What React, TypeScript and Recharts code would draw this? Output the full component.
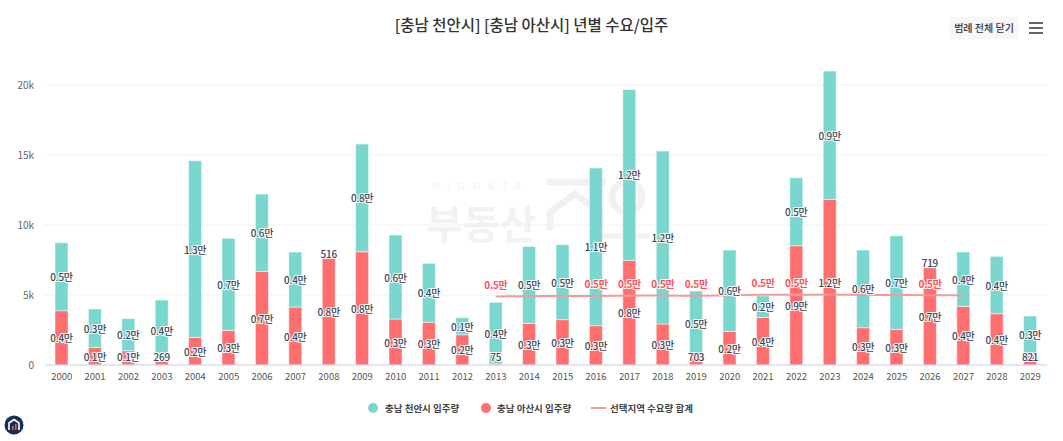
import { ComposedChart, Bar, Line, XAxis, YAxis, CartesianGrid, Legend, LabelList } from 'recharts';

const years = ['2000', '2001', '2002', '2003', '2004', '2005', '2006', '2007', '2008', '2009', '2010', '2011', '2012', '2013', '2014', '2015', '2016', '2017', '2018', '2019', '2020', '2021', '2022', '2023', '2024', '2025', '2026', '2027', '2028', '2029'];

const cheonanValues = [4855, 2740, 2290, 4371, 12615, 6570, 5520, 3930, 0, 7690, 5995, 4210, 1215, 4400, 5495, 5350, 11255, 12210, 12350, 4577, 5810, 1530, 4855, 9170, 5545, 6690, 0, 3880, 4095, 2680];
const asanValues = [3880, 1260, 1020, 269, 1975, 2475, 6690, 4140, 7640, 8090, 3285, 3050, 2165, 75, 2975, 3240, 2810, 7470, 2930, 703, 2400, 3400, 8520, 11830, 2665, 2545, 6950, 4190, 3665, 821];
const demandValues = [null, null, null, null, null, null, null, null, null, null, null, null, null, 4900, 4910, 4930, 4930, 4950, 4960, 4950, 4980, 5010, 5020, 5030, 5010, 5000, 4990, 4990, null, null];

const cheonanLabels = ['0.5만', '0.3만', '0.2만', '0.4만', '1.3만', '0.7만', '0.6만', '0.4만', '', '0.8만', '0.6만', '0.4만', '0.1만', '0.4만', '0.5만', '0.5만', '1.1만', '1.2만', '1.2만', '0.5만', '0.6만', '0.2만', '0.5만', '0.9만', '0.6만', '0.7만', '', '0.4만', '0.4만', '0.3만'];
const asanLabels = ['0.4만', '0.1만', '0.1만', '269', '0.2만', '0.3만', '0.7만', '0.4만', '0.8만', '0.8만', '0.3만', '0.3만', '0.2만', '75', '0.3만', '0.3만', '0.3만', '0.8만', '0.3만', '703', '0.2만', '0.4만', '0.9만', '1.2만', '0.3만', '0.3만', '0.7만', '0.4만', '0.4만', '821'];
// 2008 and 2026 have a label over the red bar but no teal segment to see
const topLabels = ['', '', '', '', '', '', '', '', '516', '', '', '', '', '', '', '', '', '', '', '', '', '', '', '', '', '', '719', '', '', ''];
const demandLabels = ['', '', '', '', '', '', '', '', '', '', '', '', '', '0.5만', '', '', '0.5만', '0.5만', '0.5만', '0.5만', '', '0.5만', '0.5만', '', '', '', '0.5만', '', '', ''];

const yTicks = [0, 5000, 10000, 15000, 20000];

const chartData = years.map((year, i) => ({
  year,
  cheonan: cheonanValues[i],
  asan: asanValues[i],
  demand: demandValues[i],
  cheonanLabel: cheonanLabels[i],
  asanLabel: asanLabels[i],
  topLabel: topLabels[i],
  demandLabel: demandLabels[i],
}));

const FONT = '"Noto Sans CJK KR", "Noto Sans", sans-serif';
const TEAL = '#7ad7cd';
const RED = '#ff6f6f';
const LINE_RED = '#f59a9a';

function outlined(x: number, y: number, text: string, fill: string, weight = 500) {
  return (
    <text
      x={x}
      y={y}
      textAnchor="middle"
      dominantBaseline="central"
      fontSize={10}
      fontFamily={FONT}
      fontWeight={weight}
      fill={fill}
      stroke="#fff"
      strokeWidth={2}
      paintOrder="stroke"
      letterSpacing={-0.3}
    >
      {text}
    </text>
  );
}

// the labels sit mid segment, small ones get pushed up so they stay in the plot
function SegmentLabel(props: any) {
  const { x, y, width, height, value } = props;
  if (!value) return null;
  const h = Math.abs(Number(height));
  const cy = Math.min(Number(y) + h / 2, 356.5);
  return outlined(Number(x) + Number(width) / 2, cy, value, '#3d4352');
}

function TopLabel(props: any) {
  const { x, y, width, value } = props;
  if (!value) return null;
  return outlined(Number(x) + Number(width) / 2, Number(y) - 5, value, '#3d4352');
}

function DemandLabel(props: any) {
  const { x, y, value } = props;
  if (!value || y == null) return null;
  return outlined(Number(x), Number(y) - 12, value, '#ff4d55', 700);
}

function ChartLegend() {
  const label = { fontSize: 9.5, fontWeight: 700, color: '#444', fontFamily: FONT, whiteSpace: 'nowrap' as const };
  return (
    <div style={{ position: 'relative', top: 15, height: 16, width: 1063 }}>
      <span style={{ position: 'absolute', left: 368, top: 3, width: 10, height: 10, borderRadius: 5, background: TEAL }} />
      <span style={{ ...label, position: 'absolute', left: 385, top: 1 }}>충남 천안시 입주량</span>
      <span style={{ position: 'absolute', left: 481, top: 3, width: 10, height: 10, borderRadius: 5, background: RED }} />
      <span style={{ ...label, position: 'absolute', left: 497, top: 1 }}>충남 아산시 입주량</span>
      <span style={{ position: 'absolute', left: 591, top: 7, width: 15, height: 2, background: LINE_RED }} />
      <span style={{ ...label, position: 'absolute', left: 610, top: 1 }}>선택지역 수요량 합계</span>
    </div>
  );
}

function Watermark() {
  return (
    <svg width={1063} height={441} style={{ position: 'absolute', left: 0, top: 0 }}>
      <text x={432} y={190} fontSize={11} letterSpacing={7.5} fill="#f3f3f3" fontFamily={FONT}>BIGDATA</text>
      <text x={426} y={239} fontSize={40} fontWeight={700} fill="#f2f2f2" fontFamily={FONT}>부동산</text>
      <path d="M547 182 H606" stroke="#f1f1f1" strokeWidth={7} fill="none" />
      <path d="M550 230 V212 L575 194 L600 212 V230" stroke="#f1f1f1" strokeWidth={7} fill="none" />
      <circle cx={627} cy={197} r={15} stroke="#f1f1f1" strokeWidth={7} fill="none" />
      <path d="M590 236 H650" stroke="#f1f1f1" strokeWidth={5} fill="none" />
    </svg>
  );
}

function Logo() {
  return (
    <svg width={20} height={20} style={{ position: 'absolute', left: 4, top: 415 }}>
      <circle cx={10} cy={10} r={9.5} fill="#12305a" />
      <path d="M5 15 V8 L10 4.5 L15 8 V15" stroke="#fff" strokeWidth={1.6} fill="none" />
      <rect x={8} y={11} width={1.6} height={4} fill="#e8622c" />
      <rect x={11} y={9} width={1.6} height={6} fill="#e8622c" />
    </svg>
  );
}

export default function App() {
  return (
    <div style={{ position: 'absolute', left: 0, top: 0, width: 1063, height: 441, background: '#fff', overflow: 'hidden' }}>
      <Watermark />
      <div style={{ position: 'absolute', left: 0, top: 13, width: 1063, textAlign: 'center', fontFamily: FONT, fontSize: 15.5, color: '#333', fontWeight: 500 }}>
        [충남 천안시] [충남 아산시] 년별 수요/입주
      </div>
      <div style={{ position: 'absolute', left: 949, top: 17, width: 70, height: 22, lineHeight: '22px', background: '#f7f7f7', borderRadius: 2, textAlign: 'center', fontFamily: FONT, fontSize: 10, fontWeight: 500, color: '#333', whiteSpace: 'nowrap' }}>
        범례 전체 닫기
      </div>
      <div style={{ position: 'absolute', left: 1029, top: 22, width: 14, height: 12, borderTop: '2px solid #666', borderBottom: '2px solid #666', boxSizing: 'border-box' }}>
        <div style={{ marginTop: 3, height: 2, background: '#666' }} />
      </div>
      <div style={{ position: 'absolute', left: 0, top: 0 }}>
        <ComposedChart
          width={1063}
          height={441}
          data={chartData}
          margin={{ top: 71, right: 16, bottom: 24, left: 0 }}
          barCategoryGap={0}
        >
          <CartesianGrid vertical={false} stroke="#f0f0f0" horizontalValues={yTicks} />
          <XAxis
            dataKey="year"
            interval={0}
            height={20}
            tickLine={false}
            axisLine={{ stroke: '#ccd6eb' }}
            tick={{ fontSize: 9.5, fill: '#555', fontFamily: FONT }}
          />
          <YAxis
            width={45}
            domain={[0, 21000]}
            ticks={yTicks}
            allowDataOverflow
            tickLine={false}
            axisLine={false}
            tickMargin={5}
            tickFormatter={(value: number) => (value === 0 ? '0' : `${value / 1000}k`)}
            tick={{ fontSize: 10, fill: '#666', fontFamily: FONT }}
          />
          <Legend verticalAlign="bottom" height={32} content={<ChartLegend />} />
          <Bar dataKey="asan" stackId="supply" fill={RED} stroke="#fff" strokeOpacity={0.5} barSize={13} isAnimationActive={false}>
            <LabelList dataKey="asanLabel" content={SegmentLabel} />
            <LabelList dataKey="topLabel" content={TopLabel} />
          </Bar>
          <Bar dataKey="cheonan" stackId="supply" fill={TEAL} stroke="#fff" strokeOpacity={0.5} barSize={13} isAnimationActive={false}>
            <LabelList dataKey="cheonanLabel" content={SegmentLabel} />
          </Bar>
          <Line
            dataKey="demand"
            type="monotone"
            stroke={LINE_RED}
            strokeWidth={2}
            dot={false}
            connectNulls={false}
            isAnimationActive={false}
          >
            <LabelList dataKey="demandLabel" content={DemandLabel} />
          </Line>
        </ComposedChart>
      </div>
      <Logo />
    </div>
  );
}
